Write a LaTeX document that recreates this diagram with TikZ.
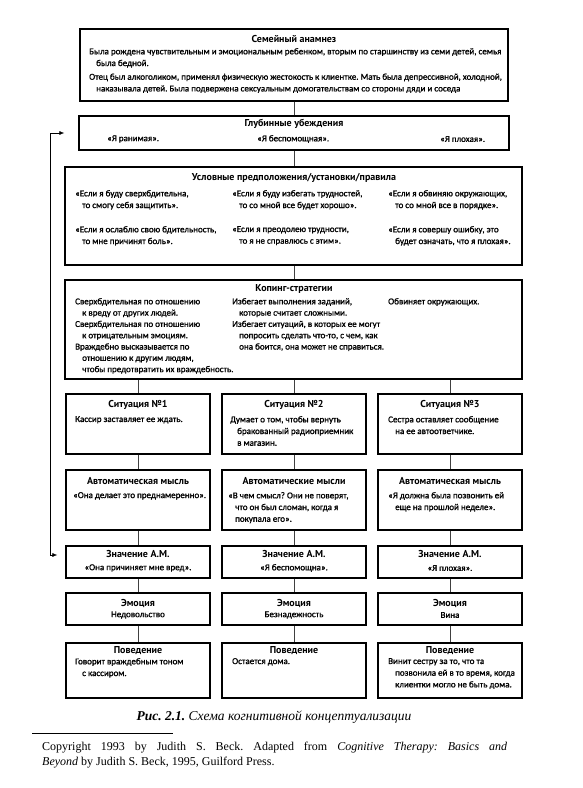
\documentclass[tikz,border=0pt]{standalone}
\usepackage{fontspec}
\setmainfont{Liberation Serif}
\newfontfamily\boxfont[FakeBold=1.2]{Carlito}
\newfontfamily\headfont{PT Sans}
\usetikzlibrary{positioning, arrows.meta}

\tikzset{
  frame/.style={draw, line width=1.3pt, inner sep=0pt},
  col/.style={frame, minimum width=144pt},
  head/.style={font=\headfont\bfseries\fontsize{10}{12}\selectfont, inner sep=0pt},
  txt/.style={font=\boxfont\fontsize{9}{11.7}\selectfont, align=left, inner sep=0pt, anchor=north west},
  ctxt/.style={font=\boxfont\fontsize{9}{11.7}\selectfont, inner sep=0pt},
  link/.style={line width=0.6pt, black!75}
}
\newcommand{\hind}{\hspace*{7pt}}

\begin{document}
\frenchspacing
\begin{tikzpicture}[x=1pt, y=-1pt, >={Latex[length=5pt,width=4pt]}]

    \useasboundingbox (0,0) rectangle (583,788);

    % --- family history ---
    \node [frame, minimum width=428pt, minimum height=72pt] (fam) at (294,65) {};
    \node [head] (famhead) at (294,39) {Семейный анамнез};
    \node [txt] (famtxt) at (89,48) {Была рождена чувствительным и эмоциональным ребенком, вторым по старшинству из семи детей, семья\\\hind была бедной.\\[2pt]Отец был алкоголиком, применял физическую жестокость к клиентке. Мать была депрессивной, холодной,\\\hind наказывала детей. Была подвержена сексуальным домогательствам со стороны дяди и соседа};

    % --- core beliefs ---
    \node [frame, minimum width=430pt, minimum height=34pt] (core) at (294,133) {};
    \node [head] (corehead) at (294,124) {Глубинные убеждения};
    \node [ctxt, anchor=west] (core1) at (107,139) {«Я ранимая».};
    \node [ctxt, anchor=west] (core2) at (257,139) {«Я беспомощная».};
    \node [ctxt, anchor=west] (core3) at (440,139) {«Я плохая».};

    % --- rules ---
    \node [frame, minimum width=457pt, minimum height=98pt] (rules) at (293.5,216) {};
    \node [head] (ruleshead) at (294,178) {Условные предположения/установки/правила};
    \node [txt] (rule1a) at (75,190) {«Если я буду сверхбдительна,\\\hind то смогу себя защитить».};
    \node [txt] (rule1b) at (75,226) {«Если я ослаблю свою бдительность,\\\hind то мне причинят боль».};
    \node [txt] (rule2a) at (232,190) {«Если я буду избегать трудностей,\\\hind то со мной все будет хорошо».};
    \node [txt] (rule2b) at (232,226) {«Если я преодолею трудности,\\\hind то я не справлюсь с этим».};
    \node [txt] (rule3a) at (388,190) {«Если я обвиняю окружающих,\\\hind то со мной все в порядке».};
    \node [txt] (rule3b) at (388,226) {«Если я совершу ошибку, это\\\hind будет означать, что я плохая».};

    % --- coping ---
    \node [frame, minimum width=457pt, minimum height=99pt] (coping) at (293.5,329.5) {};
    \node [head] (copinghead) at (294,289) {Копинг-стратегии};
    \node [txt, font=\boxfont\fontsize{9}{11.3}\selectfont] (coping1) at (75,298) {Сверхбдительная по отношению\\\hind к вреду от других людей.\\Сверхбдительная по отношению\\\hind к отрицательным эмоциям.\\Враждебно высказывается по\\\hind отношению к другим людям,\\\hind чтобы предотвратить их враждебность.};
    \node [txt, font=\boxfont\fontsize{9}{11.3}\selectfont] (coping2) at (232,298) {Избегает выполнения заданий,\\\hind которые считает сложными.\\Избегает ситуаций, в которых ее могут\\\hind попросить сделать что-то, с чем, как\\\hind она боится, она может не справиться.};
    \node [txt] (coping3) at (388,298) {Обвиняет окружающих.};

    \draw [link] (fam.south) -- (core.north);
    \draw [link] (core.south) -- (core.south |- rules.north);
    \draw [link] (core.south |- rules.south) -- (core.south |- coping.north);

    % --- three columns ---
    \foreach \i/\x in {1/138, 2/294, 3/450} {
        \node [col, minimum height=60pt] (sit\i) at (\x,424) {};
        \node [col, minimum height=60pt] (auto\i) at (\x,500) {};
        \node [col, minimum height=32pt] (mean\i) at (\x,562) {};
        \node [col, minimum height=32pt] (emo\i) at (\x,609) {};
        \node [col, minimum height=55pt] (beh\i) at (\x,670.5) {};
        \node [head] (sithead\i) at (\x,405) {Ситуация №\i};
        \node [head] (meanhead\i) at (\x,554) {Значение А.М.};
        \node [head] (emohead\i) at (\x,603) {Эмоция};
        \node [head] (behhead\i) at (\x,651) {Поведение};
        \draw [link] (sit\i.north |- coping.south) -- (sit\i.north);
        \draw [link] (sit\i) -- (auto\i);
        \draw [link] (auto\i) -- (mean\i);
        \draw [link] (mean\i) -- (emo\i);
        \draw [link] (emo\i) -- (beh\i);
    }

    \node [txt] (sittxt1) at (75,416) {Кассир заставляет ее ждать.};
    \node [txt] (sittxt2) at (230,416) {Думает о том, чтобы вернуть\\\hind бракованный радиоприемник\\\hind в магазин.};
    \node [txt] (sittxt3) at (388,416) {Сестра оставляет сообщение\\\hind на ее автоответчике.};

    \node [head] (autohead1) at (138,481) {Автоматическая мысль};
    \node [head] (autohead2) at (294,481) {Автоматические мысли};
    \node [head] (autohead3) at (450,481) {Автоматическая мысль};
    \node [txt] (autotxt1) at (73,492) {«Она делает это преднамеренно».};
    \node [txt] (autotxt2) at (228,492) {«В чем смысл? Они не поверят,\\\hind что он был сломан, когда я\\\hind покупала его».};
    \node [txt] (autotxt3) at (388,492) {«Я должна была позвонить ей\\\hind еще на прошлой неделе».};

    \node [ctxt] (meantxt1) at (138,568) {«Она причиняет мне вред».};
    \node [ctxt] (meantxt2) at (294,568) {«Я беспомощна».};
    \node [ctxt] (meantxt3) at (450,568) {«Я плохая».};

    \node [ctxt] (emotxt1) at (138,615) {Недовольство};
    \node [ctxt] (emotxt2) at (294,615) {Безнадежность};
    \node [ctxt] (emotxt3) at (450,615) {Вина};

    \node [txt] (behtxt1) at (75,658) {Говорит враждебным тоном\\\hind с кассиром.};
    \node [txt] (behtxt2) at (232,658) {Остается дома.};
    \node [txt] (behtxt3) at (388,658) {Винит сестру за то, что та\\\hind позвонила ей в то время, когда\\\hind клиентки могло не быть дома.};

    % --- feedback loop ---
    \draw [<->, line width=0.6pt] ([xshift=-14pt]core.west) -- ++(-14pt,0) |- ([xshift=-8pt,yshift=7pt]mean1.west);

    % --- caption ---
    \node [font=\fontsize{13.5}{15}\selectfont\itshape, inner sep=0pt] (caption) at (274,717) {\textbf{Рис. 2.1.} Схема когнитивной концептуализации};
    \draw [line width=0.8pt] (32,733) -- (173,733);
    \node [font=\fontsize{12}{15}\selectfont, align=left, inner sep=0pt, anchor=north west] (credit) at (42,742) {\makebox[465pt][s]{Copyright 1993 by Judith S. Beck. Adapted from \textit{Cognitive Therapy: Basics and}}\\\textit{Beyond} by Judith S. Beck, 1995, Guilford Press.};

\end{tikzpicture}
\end{document}
